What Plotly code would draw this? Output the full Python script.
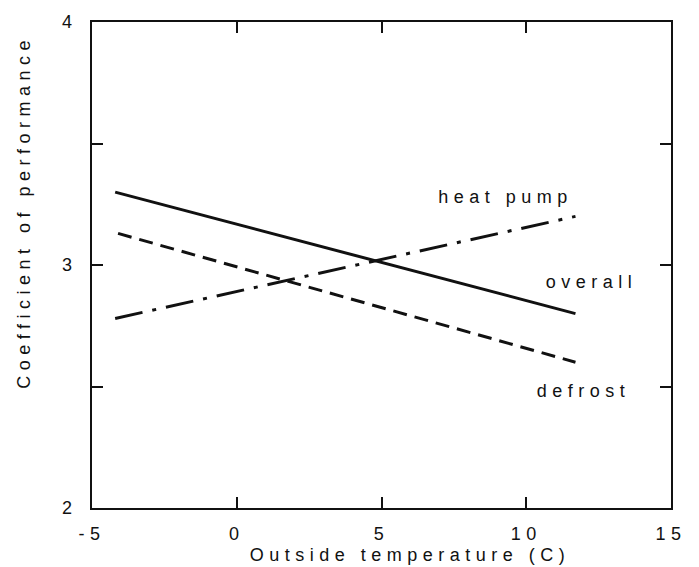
import plotly.graph_objects as go

# Data
overall_x = [-4.2, 11.7]
overall_y = [3.30, 2.80]
defrost_x = [-4.1, 11.7]
defrost_y = [3.13, 2.60]
heatpump_x = [-4.2, 11.7]
heatpump_y = [2.78, 3.20]

x_tickvals = [-5, 0, 5, 10, 15]
x_ticktext = ["-5", "0", "5", "10", "15"]
y_tickvals = [2, 2.5, 3, 3.5, 4]
y_ticktext = ["2", "", "3", "", "4"]

label_names = ["heat pump", "overall", "defrost"]
label_x = [9.3, 12.25, 11.98]
label_y = [3.28, 2.93, 2.48]

FONT = "Liberation Sans, Arial, Helvetica, sans-serif"
INK = "#111111"

fig = go.Figure()
fig.add_trace(go.Scatter(x=overall_x, y=overall_y, mode="lines",
                         line=dict(color=INK, width=3), name="overall"))
fig.add_trace(go.Scatter(x=defrost_x, y=defrost_y, mode="lines",
                         line=dict(color=INK, width=3, dash="14px,8px"), name="defrost"))
fig.add_trace(go.Scatter(x=heatpump_x, y=heatpump_y, mode="lines",
                         line=dict(color=INK, width=3, dash="28px,10px,4px,10px"), name="heat pump"))

for name, lx, ly in zip(label_names, label_x, label_y):
    fig.add_annotation(x=lx, y=ly, text=name, showarrow=False,
                       font=dict(family=FONT, size=18, color=INK),
                       xanchor="center", yanchor="middle")

fig.add_annotation(xref="paper", yref="paper", x=-0.118, y=0.61,
                   text="Coefficient of performance", textangle=-90, showarrow=False,
                   font=dict(family=FONT, size=18, color=INK),
                   xanchor="center", yanchor="middle")
fig.add_annotation(xref="paper", yref="paper", x=0.55, y=-0.096,
                   text="Outside temperature (C)", showarrow=False,
                   font=dict(family=FONT, size=18, color=INK),
                   xanchor="center", yanchor="middle")

axis_common = dict(showline=True, linecolor=INK, linewidth=2, mirror="ticks",
                   ticks="inside", ticklen=11, tickwidth=2, tickcolor=INK,
                   showgrid=False, zeroline=False,
                   tickfont=dict(family=FONT, size=18, color=INK))

fig.update_xaxes(range=[-5, 15], tickvals=x_tickvals, ticktext=x_ticktext,
                 ticklabelstandoff=8, **axis_common)
fig.update_yaxes(range=[2, 4], tickvals=y_tickvals, ticktext=y_ticktext,
                 ticklabelstandoff=9, **axis_common)

fig.update_layout(width=699, height=567,
                  margin=dict(l=92, r=28, t=20, b=59),
                  paper_bgcolor="white", plot_bgcolor="white",
                  showlegend=False, hovermode=False)

post = """
document.body.style.margin = '0';
document.body.style.padding = '0';
document.querySelectorAll('.main-svg text').forEach(function(el){
  el.style.letterSpacing = '5.5px';
});
"""
fig.write_html("out.html", post_script=post, config={"displayModeBar": False, "staticPlot": True})
